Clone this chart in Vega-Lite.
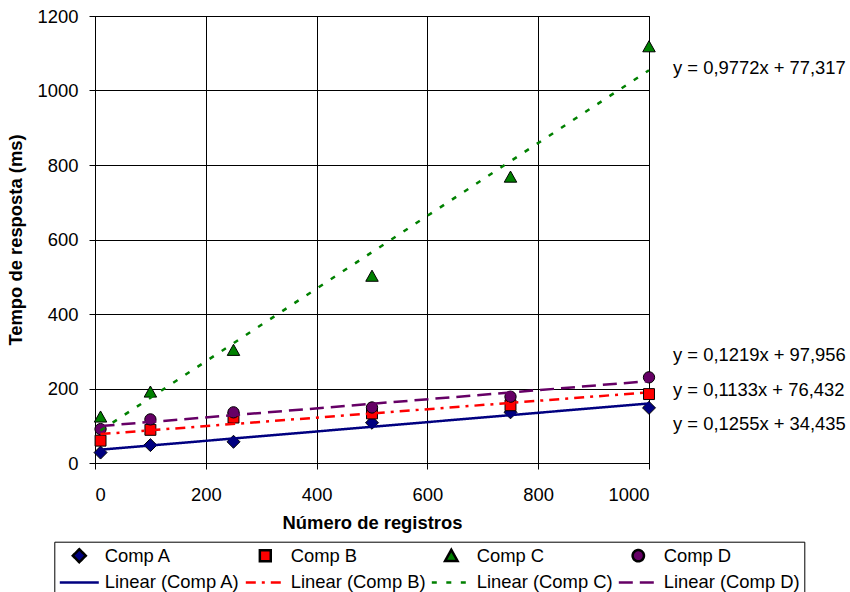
{
  "$schema": "https://vega.github.io/schema/vega-lite/v6.json",
  "width": 554,
  "height": 447,
  "autosize": "none",
  "padding": {"left": 95, "top": 16, "right": 201, "bottom": 129},
  "background": "white",
  "config": {
    "font": "Liberation Sans",
    "view": {"stroke": "black", "strokeWidth": 1},
    "axis": {
      "labelFont": "Liberation Sans",
      "labelFontSize": 18.4,
      "labelColor": "black",
      "titleFont": "Liberation Sans",
      "titleFontSize": 18.4,
      "titleFontWeight": "bold",
      "titleColor": "black",
      "domainColor": "black",
      "tickColor": "black",
      "tickSize": 6,
      "gridColor": "black",
      "gridOpacity": 1,
      "gridWidth": 1
    },
    "legend": {
      "labelFont": "Liberation Sans",
      "labelFontSize": 18.4,
      "labelColor": "black",
      "symbolSize": 1521,
      "symbolStrokeWidth": 2.5,
      "clipHeight": 20,
      "rowPadding": 6.7,
      "columnPadding": 4,
      "labelOffset": 4.4,
      "padding": 4,
      "strokeColor": "black",
      "fillColor": "white",
      "labelLimit": 300
    }
  },
  "datasets": {
    "pts": [
      {"x": 10, "y": 28, "key": "Comp A"},
      {"x": 100, "y": 48, "key": "Comp A"},
      {"x": 250, "y": 57, "key": "Comp A"},
      {"x": 500, "y": 108, "key": "Comp A"},
      {"x": 750, "y": 136, "key": "Comp A"},
      {"x": 1000, "y": 148, "key": "Comp A"},
      {"x": 10, "y": 60, "key": "Comp B"},
      {"x": 100, "y": 89, "key": "Comp B"},
      {"x": 250, "y": 122, "key": "Comp B"},
      {"x": 500, "y": 133, "key": "Comp B"},
      {"x": 750, "y": 155, "key": "Comp B"},
      {"x": 1000, "y": 185, "key": "Comp B"},
      {"x": 10, "y": 124, "key": "Comp C"},
      {"x": 100, "y": 191, "key": "Comp C"},
      {"x": 250, "y": 303, "key": "Comp C"},
      {"x": 500, "y": 502, "key": "Comp C"},
      {"x": 750, "y": 768, "key": "Comp C"},
      {"x": 1000, "y": 1118, "key": "Comp C"},
      {"x": 10, "y": 91, "key": "Comp D"},
      {"x": 100, "y": 117, "key": "Comp D"},
      {"x": 250, "y": 136, "key": "Comp D"},
      {"x": 500, "y": 149, "key": "Comp D"},
      {"x": 750, "y": 178, "key": "Comp D"},
      {"x": 1000, "y": 230, "key": "Comp D"}
    ],
    "trend": [
      {"x": 10, "y": 35.7, "key": "Linear (Comp A)"},
      {"x": 1000, "y": 159.9, "key": "Linear (Comp A)"},
      {"x": 10, "y": 77.6, "key": "Linear (Comp B)"},
      {"x": 1000, "y": 189.7, "key": "Linear (Comp B)"},
      {"x": 10, "y": 87.1, "key": "Linear (Comp C)"},
      {"x": 1000, "y": 1054.5, "key": "Linear (Comp C)"},
      {"x": 10, "y": 99.2, "key": "Linear (Comp D)"},
      {"x": 1000, "y": 219.9, "key": "Linear (Comp D)"}
    ],
    "eqs": [
      {"x": 1000, "y": 1060, "label": "y = 0,9772x + 77,317"},
      {"x": 1000, "y": 291, "label": "y = 0,1219x + 97,956"},
      {"x": 1000, "y": 197, "label": "y = 0,1133x + 76,432"},
      {"x": 1000, "y": 105, "label": "y = 0,1255x + 34,435"}
    ]
  },
  "layer": [
    {
      "data": {"name": "pts"},
      "mark": {"type": "point", "filled": true, "size": 1521, "strokeWidth": 1, "opacity": 1, "clip": false},
      "encoding": {
        "x": {"field": "x", "type": "quantitative", "scale": {"domain": [0, 1000], "nice": false}, "axis": {"values": [0, 200, 400, 600, 800, 1000], "format": "d", "title": "Número de registros", "labelPadding": 16, "titlePadding": 10}},
        "y": {"field": "y", "type": "quantitative", "scale": {"domain": [0, 1200], "nice": false}, "axis": {"values": [0, 200, 400, 600, 800, 1000, 1200], "format": "d", "title": "Tempo de resposta (ms)", "labelPadding": 11, "titlePadding": 12}},
        "shape": {"field": "key", "type": "nominal", "scale": {"domain": ["Comp A", "Comp B", "Comp C", "Comp D", "Linear (Comp A)", "Linear (Comp B)", "Linear (Comp C)", "Linear (Comp D)"], "range": ["M0,-0.333L0.333,0L0,0.333L-0.333,0Z", "M-0.28,-0.28H0.28V0.28H-0.28Z", "M0,-0.3L0.32,0.27L-0.32,0.27Z", "M-0.29,0A0.29,0.29,0,1,0,0.29,0A0.29,0.29,0,1,0,-0.29,0Z", "M-1,0H1", "M-1,0H1", "M-1,0H1", "M-1,0H1"]}, "legend": {"title": null, "orient": "none", "legendX": -40.7, "legendY": 525.7, "columns": 4, "direction": "horizontal"}},
        "fill": {"field": "key", "type": "nominal", "scale": {"domain": ["Comp A", "Comp B", "Comp C", "Comp D", "Linear (Comp A)", "Linear (Comp B)", "Linear (Comp C)", "Linear (Comp D)"], "range": ["#000080", "#ff0000", "#008000", "#660066", "transparent", "transparent", "transparent", "transparent"]}, "legend": {"title": null, "orient": "none", "legendX": -40.7, "legendY": 525.7, "columns": 4, "direction": "horizontal"}},
        "stroke": {"field": "key", "type": "nominal", "scale": {"domain": ["Comp A", "Comp B", "Comp C", "Comp D", "Linear (Comp A)", "Linear (Comp B)", "Linear (Comp C)", "Linear (Comp D)"], "range": ["#000000", "#000000", "#000000", "#000000", "#000080", "#ff0000", "#008000", "#660066"]}, "legend": {"title": null, "orient": "none", "legendX": -40.7, "legendY": 525.7, "columns": 4, "direction": "horizontal"}}
      }
    },
    {
      "data": {"name": "trend"},
      "mark": {"type": "line", "strokeWidth": 2.5, "clip": false},
      "encoding": {
        "x": {"field": "x", "type": "quantitative"},
        "y": {"field": "y", "type": "quantitative"},
        "stroke": {"field": "key", "type": "nominal", "legend": {"title": null, "orient": "none", "legendX": -40.7, "legendY": 525.7, "columns": 4, "direction": "horizontal"}},
        "strokeDash": {"field": "key", "type": "nominal", "scale": {"domain": ["Comp A", "Comp B", "Comp C", "Comp D", "Linear (Comp A)", "Linear (Comp B)", "Linear (Comp C)", "Linear (Comp D)"], "range": [[1, 0], [1, 0], [1, 0], [1, 0], [1, 0], [10, 6, 3, 6], [5, 9.5], [14, 7]]}, "legend": {"title": null, "orient": "none", "legendX": -40.7, "legendY": 525.7, "columns": 4, "direction": "horizontal"}}
      }
    },
    {
      "data": {"name": "eqs"},
      "mark": {"type": "text", "align": "left", "baseline": "middle", "dx": 24, "font": "Liberation Sans", "fontSize": 18.4, "color": "black", "clip": false},
      "encoding": {
        "x": {"field": "x", "type": "quantitative"},
        "y": {"field": "y", "type": "quantitative"},
        "text": {"field": "label", "type": "nominal"}
      }
    }
  ]
}
